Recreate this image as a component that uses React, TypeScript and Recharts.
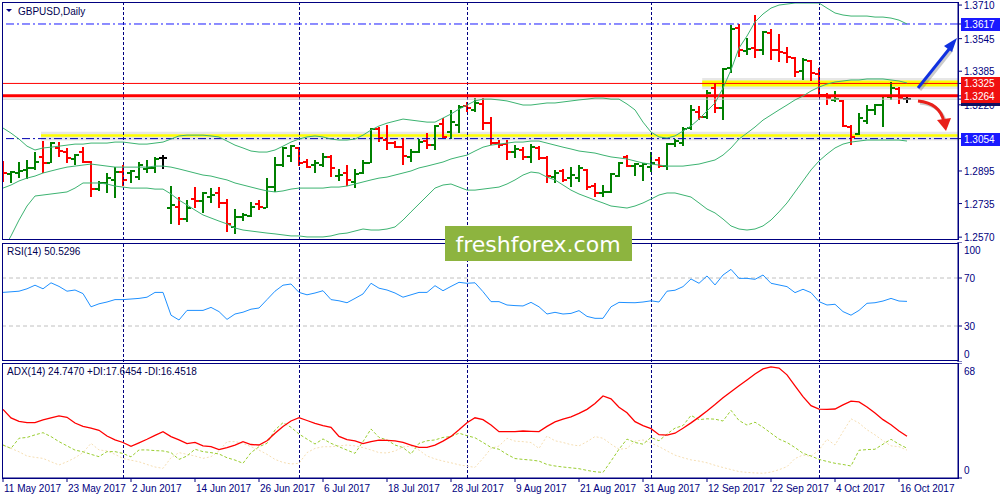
import React from 'react';
import { ComposedChart, Bar, Line, XAxis, YAxis, ReferenceLine, ReferenceArea } from 'recharts';

const NAVY = '#000080';
const GREEN = '#008000';
const RED = '#ff0000';
const FONT = '"Liberation Sans", Arial, sans-serif';

// x axis labels every 8 bars, month separators
const tickDates = ['11 May 2017', '23 May 2017', '2 Jun 2017', '14 Jun 2017', '26 Jun 2017', '6 Jul 2017', '18 Jul 2017', '28 Jul 2017', '9 Aug 2017', '21 Aug 2017', '31 Aug 2017', '12 Sep 2017', '22 Sep 2017', '4 Oct 2017', '16 Oct 2017'];
const tickIdx = [0, 8, 16, 24, 32, 40, 48, 56, 64, 72, 80, 88, 96, 104, 112];
const monthStarts = [15, 37, 58, 81, 102];

const opens = [1.2924, 1.2880, 1.2885, 1.2900, 1.2910, 1.2964, 1.2934, 1.3008, 1.2988, 1.2954,
  1.2988, 1.2939, 1.2806, 1.2836, 1.2851, 1.2890, 1.2885, 1.2865, 1.2905, 1.2910,
  1.2959, 1.2713, 1.2718, 1.2659, 1.2757, 1.2747, 1.2767, 1.2787, 1.2738, 1.2620,
  1.2669, 1.2674, 1.2733, 1.2713, 1.2816, 1.2924, 1.2969, 1.3008, 1.2939, 1.2924,
  1.2924, 1.2964, 1.2870, 1.2885, 1.2841, 1.2885, 1.2934, 1.3101, 1.3047, 1.3032,
  1.3012, 1.2964, 1.2988, 1.3042, 1.3022, 1.3126, 1.3086, 1.3121, 1.3214, 1.3195,
  1.3224, 1.3130, 1.3032, 1.3027, 1.2988, 1.2998, 1.2964, 1.3008, 1.2959, 1.2865,
  1.2895, 1.2860, 1.2860, 1.2900, 1.2821, 1.2787, 1.2792, 1.2870, 1.2964, 1.2919,
  1.2919, 1.2914, 1.2949, 1.2919, 1.3027, 1.3032, 1.3106, 1.3185, 1.3160, 1.3302,
  1.3204, 1.3401, 1.3597, 1.3484, 1.3499, 1.3489, 1.3572, 1.3489, 1.3474, 1.3450,
  1.3386, 1.3435, 1.3371, 1.3268, 1.3244, 1.3239, 1.3111, 1.3076, 1.3140, 1.3195,
  1.3219, 1.3258, 1.3297, 1.3248];

const highs = [1.2944, 1.2895, 1.2939, 1.2949, 1.2988, 1.3042, 1.3037, 1.3037, 1.3008, 1.2978,
  1.3012, 1.2944, 1.2846, 1.2885, 1.2914, 1.2924, 1.2900, 1.2939, 1.2949, 1.2964,
  1.2973, 1.2821, 1.2767, 1.2752, 1.2816, 1.2792, 1.2811, 1.2816, 1.2757, 1.2708,
  1.2689, 1.2742, 1.2752, 1.2860, 1.2964, 1.3012, 1.3022, 1.3012, 1.2954, 1.2949,
  1.2983, 1.2973, 1.2905, 1.2924, 1.2905, 1.2949, 1.3106, 1.3111, 1.3121, 1.3042,
  1.3057, 1.3003, 1.3052, 1.3081, 1.3121, 1.3155, 1.3195, 1.3219, 1.3234, 1.3253,
  1.3253, 1.3160, 1.3047, 1.3047, 1.3022, 1.3012, 1.3027, 1.3017, 1.2969, 1.2900,
  1.2905, 1.2914, 1.2924, 1.2905, 1.2836, 1.2826, 1.2885, 1.2939, 1.2973, 1.2934,
  1.2934, 1.2988, 1.2964, 1.3032, 1.3052, 1.3111, 1.3219, 1.3214, 1.3293, 1.3327,
  1.3401, 1.3612, 1.3617, 1.3548, 1.3661, 1.3582, 1.3592, 1.3568, 1.3504, 1.3455,
  1.3450, 1.3440, 1.3401, 1.3278, 1.3288, 1.3244, 1.3121, 1.3180, 1.3219, 1.3224,
  1.3268, 1.3332, 1.3307, 1.3263];

const lows = [1.2841, 1.2836, 1.2860, 1.2855, 1.2900, 1.2885, 1.2934, 1.2964, 1.2934, 1.2924,
  1.2934, 1.2767, 1.2797, 1.2787, 1.2762, 1.2821, 1.2836, 1.2851, 1.2885, 1.2885,
  1.2905, 1.2635, 1.2630, 1.2644, 1.2713, 1.2689, 1.2738, 1.2713, 1.2595, 1.2586,
  1.2649, 1.2669, 1.2703, 1.2713, 1.2792, 1.2914, 1.2939, 1.2919, 1.2910, 1.2885,
  1.2914, 1.2865, 1.2846, 1.2821, 1.2811, 1.2880, 1.2934, 1.3037, 1.2998, 1.3008,
  1.2924, 1.2939, 1.2983, 1.3003, 1.2998, 1.3057, 1.3052, 1.3081, 1.3185, 1.3185,
  1.3096, 1.3022, 1.3008, 1.2949, 1.2959, 1.2949, 1.2934, 1.2949, 1.2836, 1.2836,
  1.2841, 1.2816, 1.2841, 1.2801, 1.2767, 1.2767, 1.2787, 1.2865, 1.2914, 1.2870,
  1.2846, 1.2890, 1.2910, 1.2900, 1.3012, 1.3017, 1.3096, 1.3145, 1.3150, 1.3180,
  1.3145, 1.3376, 1.3455, 1.3464, 1.3450, 1.3464, 1.3440, 1.3430, 1.3425, 1.3356,
  1.3342, 1.3337, 1.3258, 1.3219, 1.3234, 1.3111, 1.3022, 1.3071, 1.3126, 1.3170,
  1.3111, 1.3244, 1.3224, 1.3229];

const closes = [1.2885, 1.2890, 1.2895, 1.2910, 1.2939, 1.2934, 1.3032, 1.2993, 1.2959, 1.2973,
  1.2939, 1.2806, 1.2836, 1.2860, 1.2890, 1.2851, 1.2895, 1.2924, 1.2910, 1.2954,
  1.2959, 1.2728, 1.2659, 1.2713, 1.2747, 1.2787, 1.2777, 1.2738, 1.2635, 1.2669,
  1.2679, 1.2718, 1.2718, 1.2816, 1.2924, 1.3008, 1.3017, 1.2934, 1.2914, 1.2934,
  1.2964, 1.2910, 1.2875, 1.2851, 1.2880, 1.2934, 1.3101, 1.3057, 1.3032, 1.3012,
  1.2969, 1.2988, 1.3037, 1.3022, 1.3116, 1.3062, 1.3135, 1.3209, 1.3204, 1.3229,
  1.3130, 1.3032, 1.3022, 1.2988, 1.3003, 1.2964, 1.3012, 1.2959, 1.2870, 1.2885,
  1.2851, 1.2875, 1.2910, 1.2816, 1.2787, 1.2792, 1.2880, 1.2934, 1.2919, 1.2929,
  1.2929, 1.2934, 1.2919, 1.3027, 1.3042, 1.3101, 1.3195, 1.3160, 1.3278, 1.3204,
  1.3396, 1.3592, 1.3489, 1.3494, 1.3489, 1.3577, 1.3489, 1.3479, 1.3455, 1.3381,
  1.3440, 1.3376, 1.3268, 1.3253, 1.3248, 1.3116, 1.3062, 1.3155, 1.3195, 1.3219,
  1.3263, 1.3302, 1.3253, 1.3248];

const bbUpper = [1.3106, 1.3081, 1.3052, 1.3017, 1.2998, 1.3008, 1.3012, 1.3017, 1.3022, 1.3027,
  1.3027, 1.3032, 1.3032, 1.3032, 1.3037, 1.3037, 1.3032, 1.3027, 1.3027, 1.3032,
  1.3037, 1.3052, 1.3067, 1.3071, 1.3071, 1.3071, 1.3067, 1.3062, 1.3042, 1.3022,
  1.3008, 1.2993, 1.2988, 1.2988, 1.2998, 1.3017, 1.3037, 1.3052, 1.3062, 1.3067,
  1.3062, 1.3052, 1.3047, 1.3047, 1.3052, 1.3071, 1.3096, 1.3116, 1.3130, 1.3140,
  1.3150, 1.3145, 1.3140, 1.3135, 1.3135, 1.3155, 1.3175, 1.3199, 1.3219, 1.3239,
  1.3248, 1.3248, 1.3244, 1.3239, 1.3229, 1.3219, 1.3219, 1.3224, 1.3229, 1.3229,
  1.3234, 1.3239, 1.3244, 1.3248, 1.3253, 1.3253, 1.3248, 1.3248, 1.3224, 1.3195,
  1.3135, 1.3086, 1.3062, 1.3057, 1.3067, 1.3091, 1.3116, 1.3150, 1.3190, 1.3229,
  1.3302, 1.3391, 1.3499, 1.3558, 1.3627, 1.3666, 1.3695, 1.3710, 1.3715, 1.3720,
  1.3720, 1.3720, 1.3720, 1.3695, 1.3671, 1.3661, 1.3656, 1.3656, 1.3656, 1.3651,
  1.3651, 1.3646, 1.3636, 1.3617];

const bbMiddle = [1.2811, 1.2826, 1.2846, 1.2860, 1.2870, 1.2885, 1.2895, 1.2905, 1.2914, 1.2919,
  1.2924, 1.2929, 1.2924, 1.2919, 1.2914, 1.2914, 1.2914, 1.2914, 1.2914, 1.2919,
  1.2919, 1.2914, 1.2905, 1.2895, 1.2885, 1.2875, 1.2870, 1.2860, 1.2851, 1.2836,
  1.2826, 1.2816, 1.2806, 1.2797, 1.2792, 1.2797, 1.2806, 1.2811, 1.2811, 1.2811,
  1.2811, 1.2816, 1.2816, 1.2821, 1.2831, 1.2841, 1.2851, 1.2860, 1.2865, 1.2875,
  1.2885, 1.2895, 1.2910, 1.2919, 1.2929, 1.2939, 1.2954, 1.2964, 1.2973, 1.2993,
  1.3012, 1.3022, 1.3027, 1.3032, 1.3037, 1.3037, 1.3042, 1.3042, 1.3032, 1.3022,
  1.3012, 1.3003, 1.2993, 1.2988, 1.2983, 1.2973, 1.2964, 1.2959, 1.2954, 1.2944,
  1.2934, 1.2929, 1.2924, 1.2919, 1.2919, 1.2919, 1.2924, 1.2929, 1.2939, 1.2949,
  1.2973, 1.3008, 1.3052, 1.3081, 1.3111, 1.3145, 1.3170, 1.3195, 1.3219, 1.3244,
  1.3263, 1.3288, 1.3307, 1.3322, 1.3332, 1.3337, 1.3342, 1.3342, 1.3347, 1.3347,
  1.3347, 1.3342, 1.3337, 1.3327];

const bbLower = [1.2507, 1.2576, 1.2654, 1.2723, 1.2772, 1.2777, 1.2782, 1.2787, 1.2792, 1.2811,
  1.2836, 1.2836, 1.2836, 1.2831, 1.2821, 1.2816, 1.2811, 1.2811, 1.2811, 1.2806,
  1.2806, 1.2782, 1.2752, 1.2728, 1.2703, 1.2679, 1.2664, 1.2649, 1.2635, 1.2615,
  1.2605, 1.2600, 1.2595, 1.2590, 1.2586, 1.2581, 1.2576, 1.2576, 1.2571, 1.2571,
  1.2571, 1.2576, 1.2586, 1.2590, 1.2600, 1.2610, 1.2605, 1.2605, 1.2610, 1.2620,
  1.2654, 1.2694, 1.2733, 1.2772, 1.2811, 1.2826, 1.2831, 1.2816, 1.2801, 1.2801,
  1.2806, 1.2811, 1.2816, 1.2831, 1.2851, 1.2875, 1.2890, 1.2885, 1.2865, 1.2851,
  1.2826, 1.2801, 1.2782, 1.2767, 1.2752, 1.2738, 1.2723, 1.2718, 1.2713, 1.2723,
  1.2738, 1.2757, 1.2777, 1.2787, 1.2787, 1.2777, 1.2767, 1.2738, 1.2708, 1.2689,
  1.2659, 1.2625, 1.2610, 1.2605, 1.2610, 1.2625, 1.2654, 1.2694, 1.2738, 1.2792,
  1.2846, 1.2900, 1.2944, 1.2978, 1.3008, 1.3027, 1.3037, 1.3042, 1.3047, 1.3047,
  1.3047, 1.3047, 1.3047, 1.3042];

const rsi = [58, 58.5, 59, 61, 64, 61, 66, 63, 59, 60,
  57, 46, 48.5, 50, 52, 52, 52.5, 53, 54, 58,
  58, 39, 35, 43, 43, 43, 45.5, 42, 35.5, 40,
  41.5, 44, 45, 52, 59, 64, 65, 58, 56, 57.5,
  59.4, 52, 51, 49.4, 53, 56.7, 65.6, 61.5, 60, 57.5,
  54, 56, 58, 58, 63.6, 59.4, 63, 66.4, 65.6, 66,
  58.6, 50.3, 50.3, 47.5, 47, 46.7, 49.7, 46, 40, 41.4,
  40, 40.5, 42.8, 38, 36.4, 36.4, 46, 49.7, 49.5, 49.4,
  50, 51, 50, 59, 59.8, 62.8, 69.2, 65.6, 71.7, 64.2,
  72.5, 77.2, 69.7, 69.7, 68.9, 72.5, 65.6, 64.2, 62.8, 57.8,
  60.6, 57.8, 50.3, 47.5, 48.1, 42, 39, 43, 48.9, 49.4,
  50.8, 53, 50.8, 50.5];

const adx = [40.6, 35.5, 33.5, 32.7, 32.7, 34.3, 35.5, 36.7, 35.9, 32.5,
  30.5, 29.5, 28.2, 24.8, 22.5, 21, 18.7, 20.8, 22.9, 25.2,
  27.4, 24.5, 22.5, 20.3, 21.1, 19, 18.5, 16.8, 18, 19.5,
  21.5, 19.8, 19.5, 22, 26.5, 30.5, 33.7, 35.7, 34, 32.3,
  31, 30, 24.6, 22.7, 22, 20.3, 21.5, 22.4, 22.2, 21.9,
  21, 19.5, 18.1, 18.1, 19.5, 21.8, 24.6, 28.5, 32.7, 35.6,
  34.5, 31.3, 27.4, 27.4, 27.4, 27.8, 27.6, 27.4, 30.5, 33.2,
  34.8, 36.2, 38.2, 40.6, 44, 48.5, 46.8, 41.8, 38.6, 33.3,
  31, 29.2, 25.6, 25.4, 26.5, 29.4, 32.6, 36, 39.6, 43.4,
  47.5, 51, 54.5, 58, 61.5, 64.5, 65.7, 65, 61, 54.5,
  48.1, 42.8, 40.7, 40.6, 40.8, 43.2, 45.5, 45, 42, 38.5,
  34.5, 31.5, 27.8, 24.7];

const plusDi = [19.5, 17.5, 23.5, 24, 25.5, 26.8, 24.5, 21.5, 19, 16.5,
  15.5, 14, 12.6, 15.6, 15.6, 14.5, 12.5, 16.6, 16.6, 16.2,
  16, 15, 11, 13, 17, 15.6, 15, 14.2, 12, 10.6,
  8.7, 15, 18.5, 20.5, 28.4, 32.7, 30, 26, 23, 20.1,
  23.1, 20.5, 18.5, 16.5, 14.6, 21.5, 29, 24, 22.5, 19.5,
  18, 14.2, 20.5, 22, 22.5, 24, 24.5, 26.5, 25, 23.8,
  21, 18.1, 17, 14, 11.5, 11, 10.6, 10, 8, 7.1,
  6.5, 6, 5.5, 4.5, 3.7, 3.3, 10, 17, 23, 21,
  20, 24, 22, 26, 29.5, 31, 37, 34.5, 35, 34.8,
  33.7, 40, 34, 31.3, 33, 30, 26.5, 23, 21, 18,
  14.6, 13, 11, 9.8, 8.7, 8, 7.1, 16.4, 16.8, 17,
  20, 22.9, 20, 17.6];

const minusDi = [19.5, 17.5, 15.5, 13, 12.2, 11.6, 9.6, 7.7, 9.6, 12,
  15, 20.5, 16.6, 16, 14, 11.6, 10.5, 9.6, 8, 6.5,
  5.7, 12, 15, 14, 13, 11.6, 12.6, 16, 21.5, 21.5,
  20.5, 18.5, 16.5, 14, 11, 9.2, 8.3, 8.7, 15, 17.5,
  18.5, 18.5, 19, 19.5, 19, 18, 16.6, 15, 14.8, 16,
  18.3, 18.9, 16.5, 13, 11.3, 10, 9, 7.8, 7, 6.3,
  11.6, 17.5, 18.9, 23.5, 21.8, 21.5, 21, 17.5, 24.8, 22,
  21, 19.7, 19, 21.5, 24.5, 23.5, 20, 17, 17.5, 21.8,
  22.5, 20.6, 18.6, 16, 13.5, 12, 10.7, 10, 9, 7.5,
  6.2, 5, 3.8, 3.3, 3, 2.8, 3.5, 4.9, 6.7, 11.5,
  13.6, 12.8, 16.6, 22.9, 19.5, 27.4, 35, 32.5, 28.5, 25.5,
  22, 19, 18.5, 16.5];

const rows = opens.map((o, i) => ({
  i,
  open: o,
  high: highs[i],
  low: lows[i],
  close: closes[i],
  range: [lows[i], highs[i]],
  up: bbUpper[i],
  mid: bbMiddle[i],
  lo: bbLower[i],
  rsi: rsi[i],
  adx: adx[i],
  pdi: plusDi[i],
  mdi: minusDi[i],
}));

const xDomain = [-0.125, 119.375];
const priceTicks = [1.371, 1.3545, 1.3385, 1.322, 1.2895, 1.2735, 1.257, 1.3248, 1.3617, 1.3325, 1.3264, 1.3054];
const boxes: Record<string, string> = { '1.3248': '#101060', '1.3617': '#1a1aff', '1.3325': '#f01010', '1.3264': '#f01010', '1.3054': '#1a1aff' };

const PriceTick = (props: any) => {
  const { x, y, payload } = props;
  const label = payload.value.toFixed(4);
  const bg = boxes[label];
  if (bg) {
    return (
      <g>
        <rect x={x - 3} y={Math.round(y) - 6} width={42} height={13} fill={bg} />
        {label !== '1.3248' && (
          <text x={x} y={y + 4} fill="#fff" fontSize={10} fontFamily={FONT}>{label}</text>
        )}
      </g>
    );
  }
  return <text x={x} y={y + 4} fill={NAVY} fontSize={10} fontFamily={FONT}>{label}</text>;
};

const edgeTick = (top: number, bottom: number) => (props: any) => {
  const { x, y, payload } = props;
  const v = payload.value;
  const shift = v === top ? 8 : v === bottom ? -8 : 0;
  return <text x={x} y={y + 4 + shift} fill={NAVY} fontSize={10} fontFamily={FONT}>{v}</text>;
};

const DateTick = (props: any) => {
  const { x, y, payload } = props;
  const label = tickDates[tickIdx.indexOf(payload.value)];
  return <text x={x + 1} y={y + 8} fill={NAVY} fontSize={10} fontFamily={FONT}>{label}</text>;
};

const OhlcBar = (props: any) => {
  const { x, y, width, height, payload } = props;
  if (x == null || y == null || !payload) return null;
  const cx = Math.round(x + width / 2);
  const top = Math.min(y, y + height);
  const h = Math.abs(height);
  const span = payload.high - payload.low || 1;
  const toY = (v: number) => Math.round(top + ((payload.high - v) / span) * h);
  const color = payload.close > payload.open ? GREEN : payload.close < payload.open ? RED : '#000';
  const yo = toY(payload.open);
  const yc = toY(payload.close);
  return (
    <g>
      <rect x={cx - 1} y={Math.round(top)} width={2} height={Math.max(1, Math.round(h))} fill={color} />
      <rect x={cx - 4} y={yo - 1} width={3} height={2} fill={color} />
      <rect x={cx + 1} y={yc - 1} width={3} height={2} fill={color} />
    </g>
  );
};

// nudge half a pixel so the dashed separators stay crisp
const separators = () =>
  monthStarts.map((m) => <ReferenceLine key={m} x={m + 0.0625} stroke={NAVY} strokeDasharray="3 2" />);

export default function App() {
  return (
    <div style={{ position: 'absolute', left: 0, top: 0, width: 1000, height: 500, background: '#fff' }}>
      <div style={{ position: 'absolute', left: 0, top: 0 }}>
        <ComposedChart width={1000} height={245} data={rows} margin={{ top: 2, right: 0, bottom: 5, left: 2 }}>
          <XAxis dataKey="i" type="number" domain={xDomain} allowDataOverflow hide />
          <YAxis
            orientation="right"
            width={42}
            domain={[1.2556, 1.3725]}
            allowDataOverflow
            ticks={priceTicks}
            interval={0}
            tickSize={4}
            tickLine={{ stroke: NAVY }}
            axisLine={{ stroke: NAVY }}
            tick={PriceTick}
          />
          <ReferenceArea x1={4.75} x2={119.375} y1={1.3045} y2={1.3088} fill="#b0b0b0" fillOpacity={0.3} ifOverflow="hidden" />
          <ReferenceArea x1={4.75} x2={119.375} y1={1.3063} y2={1.3075} fill="#ffff00" fillOpacity={1} ifOverflow="hidden" />
          <ReferenceArea x1={87.4} x2={119.375} y1={1.3296} y2={1.3352} fill="#b0b0b0" fillOpacity={0.3} ifOverflow="hidden" />
          <ReferenceArea x1={87.4} x2={119.375} y1={1.3310} y2={1.3339} fill="#ffff00" fillOpacity={1} ifOverflow="hidden" />
          {separators()}
          <ReferenceLine y={1.3617} stroke="#1a1aff" strokeDasharray="8 3 2 3" />
          <ReferenceLine y={1.3054} stroke="#0000b0" strokeDasharray="8 3 2 3" />
          <ReferenceLine y={1.3325} stroke={RED} strokeWidth={1} />
          <ReferenceLine y={1.3248} stroke="#c8c8c8" strokeWidth={1} />
          <ReferenceLine y={1.3264} stroke={RED} strokeWidth={3} />
          <Line dataKey="up" stroke="#3cb371" strokeWidth={1} dot={false} activeDot={false} isAnimationActive={false} type="linear" />
          <Line dataKey="mid" stroke="#3cb371" strokeWidth={1} dot={false} activeDot={false} isAnimationActive={false} type="linear" />
          <Line dataKey="lo" stroke="#3cb371" strokeWidth={1} dot={false} activeDot={false} isAnimationActive={false} type="linear" />
          <Bar dataKey="range" barSize={6} shape={OhlcBar} isAnimationActive={false} />
        </ComposedChart>
      </div>

      <div style={{ position: 'absolute', left: 0, top: 242 }}>
        <ComposedChart width={1000} height={120} data={rows} margin={{ top: 0, right: 0, bottom: 0, left: 2 }}>
          <XAxis dataKey="i" type="number" domain={xDomain} allowDataOverflow hide />
          <YAxis
            orientation="right"
            width={42}
            domain={[0, 100]}
            ticks={[100, 70, 30, 0]}
            interval={0}
            tickSize={4}
            tickLine={{ stroke: NAVY }}
            axisLine={{ stroke: NAVY }}
            tick={edgeTick(100, 0)}
          />
          <ReferenceLine y={70} stroke="#c0c0c0" strokeDasharray="4 3" />
          <ReferenceLine y={30} stroke="#c0c0c0" strokeDasharray="4 3" />
          {separators()}
          <Line dataKey="rsi" stroke="#1e90ff" strokeWidth={1} dot={false} activeDot={false} isAnimationActive={false} type="linear" />
        </ComposedChart>
      </div>

      <div style={{ position: 'absolute', left: 0, top: 363 }}>
        <ComposedChart width={1000} height={137} data={rows} margin={{ top: 0, right: 0, bottom: 0, left: 2 }}>
          <XAxis
            dataKey="i"
            type="number"
            domain={xDomain}
            allowDataOverflow
            ticks={tickIdx}
            interval={0}
            height={22}
            tickSize={4}
            tickLine={{ stroke: NAVY }}
            axisLine={{ stroke: NAVY }}
            tick={DateTick}
          />
          <YAxis
            orientation="right"
            width={42}
            domain={[0, 68]}
            ticks={[68, 0]}
            interval={0}
            tickSize={4}
            tickLine={{ stroke: NAVY }}
            axisLine={{ stroke: NAVY }}
            tick={edgeTick(68, 0)}
          />
          {separators()}
          <Line dataKey="mdi" stroke="#f5deb3" strokeWidth={1} strokeDasharray="2 2" dot={false} activeDot={false} isAnimationActive={false} type="linear" />
          <Line dataKey="pdi" stroke="#9acd32" strokeWidth={1} strokeDasharray="3 2" dot={false} activeDot={false} isAnimationActive={false} type="linear" />
          <Line dataKey="adx" stroke={RED} strokeWidth={1.3} dot={false} activeDot={false} isAnimationActive={false} type="linear" />
        </ComposedChart>
      </div>

      <svg width={1000} height={500} style={{ position: 'absolute', left: 0, top: 0, pointerEvents: 'none' }}>
        <rect x={2.5} y={2.5} width={956} height={237} fill="none" stroke={NAVY} />
        <rect x={2.5} y={243.5} width={956} height={117} fill="none" stroke={NAVY} />
        <rect x={2.5} y={363.5} width={956} height={115} fill="none" stroke={NAVY} />
        <polygon points="6,9 12,9 9,12" fill={NAVY} />
        <text x={18} y={15} fill="#000050" fontSize={10} fontFamily={FONT}>GBPUSD,Daily</text>
        <text x={7} y={255} fill="#000050" fontSize={10} fontFamily={FONT}>RSI(14) 50.5296</text>
        <text x={7} y={375} fill="#000050" fontSize={10} fontFamily={FONT}>ADX(14) 24.7470 +DI:17.6454 -DI:16.4518</text>

        <rect x={445} y={226} width={187} height={35} fill="#8db43f" />
        <text x={538} y={252} fill="#fff" fontSize={22} fontFamily='"DejaVu Sans", sans-serif' textAnchor="middle">freshforex.com</text>

        <g opacity={0.3} transform="translate(2,2)">
          <line x1={918} y1={88} x2={950} y2={48} stroke="#555" strokeWidth={3} />
          <path d="M918,101 Q940,103 944,122" fill="none" stroke="#555" strokeWidth={3} />
        </g>
        <line x1={918} y1={88} x2={950} y2={48} stroke="#1030e0" strokeWidth={3} />
        <polygon points="957,38 952,52 944,46" fill="#1030e0" />
        <path d="M918,101 Q940,103 944,122" fill="none" stroke="#e8201a" strokeWidth={3} />
        <polygon points="937,120 951,118 946,131" fill="#e8201a" />
      </svg>
    </div>
  );
}
